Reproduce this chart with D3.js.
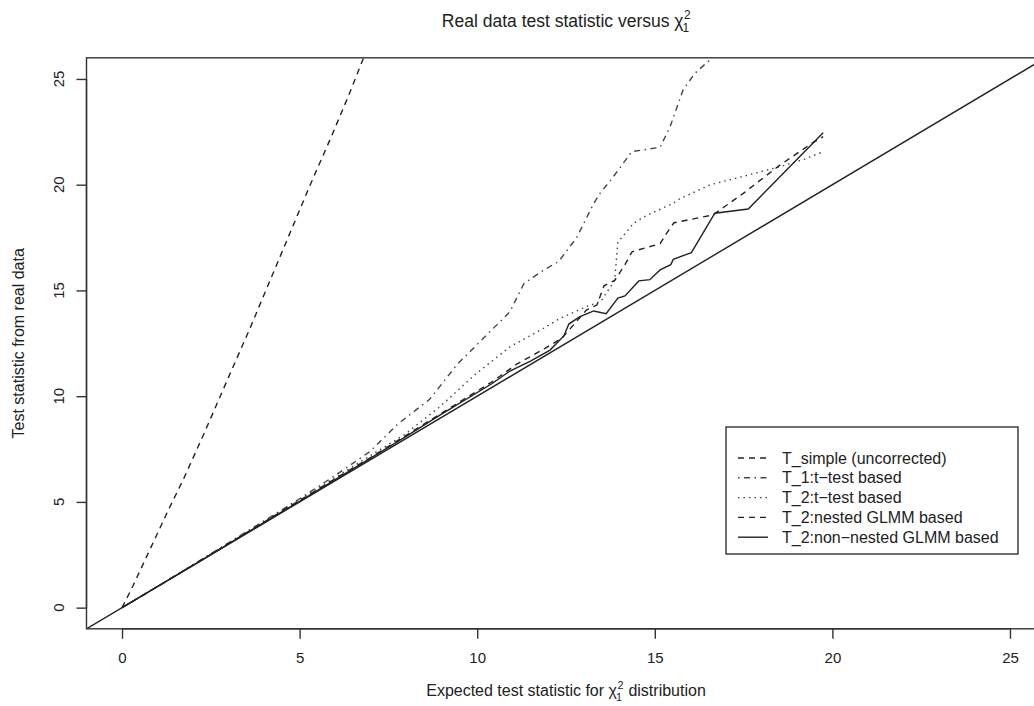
<!DOCTYPE html>
<html>
<head>
<meta charset="utf-8">
<script src="https://cdn.jsdelivr.net/npm/d3@7"></script>
<style>
  body { margin: 0; background: #fff; }
  text { font-family: "Liberation Sans", Arial, sans-serif; fill: #222; white-space: pre; }
</style>
</head>
<body>
<div id="chart"></div>
<script>
var simpleX = [0, 0.3, 0.8, 1.3, 1.72, 2.3, 3.0, 3.6, 4.2, 4.8, 5.3, 5.9, 6.4, 6.8, 7.2];
var simpleY = [0, 1.0, 2.8, 4.6, 6.04, 8.2, 10.9, 13.2, 15.6, 18.0, 20.0, 22.3, 24.3, 26.0, 27.5];

var t1X = [0, 1, 2, 3, 4, 5, 6, 6.98, 7.77, 8.66, 9.44, 10.23, 10.92, 11.31, 11.8, 12.3, 12.8, 13.28, 13.46, 13.8, 14.35, 14.7, 15.15, 15.43, 15.8, 16.13, 16.55, 16.8];
var t1Y = [0, 1.0, 2.03, 3.07, 4.1, 5.15, 6.25, 7.38, 8.69, 9.85, 11.51, 12.83, 13.99, 15.31, 15.89, 16.38, 17.5, 19.11, 19.6, 20.3, 21.56, 21.65, 21.77, 22.74, 24.5, 25.27, 25.9, 26.4];

var t2tX = [0, 1, 2, 3, 4, 5, 6, 7.0, 7.97, 8.95, 9.93, 10.92, 11.9, 12.3, 13.08, 13.48, 13.87, 13.96, 14.07, 14.4, 14.75, 15.52, 15.64, 16.55, 17.5, 18.52, 19.2, 19.74];
var t2tY = [0, 1.0, 2.02, 3.05, 4.08, 5.1, 6.15, 7.2, 8.2, 9.5, 11.01, 12.33, 13.24, 13.65, 14.24, 14.48, 15.47, 17.29, 17.5, 18.17, 18.53, 19.12, 19.28, 19.99, 20.4, 20.85, 21.2, 21.56];

var nestX = [0, 1, 2, 3, 4, 5, 6, 7, 8, 9, 10.42, 11.1, 11.9, 12.39, 13.08, 13.37, 13.57, 13.87, 14.16, 14.36, 15.15, 15.34, 15.54, 16.64, 17.5, 18.5, 19.46, 19.74];
var nestY = [0, 1.0, 2.01, 3.03, 4.05, 5.07, 6.1, 7.1, 8.15, 9.2, 10.68, 11.5, 12.25, 12.75, 14.08, 14.31, 15.22, 15.47, 16.22, 16.83, 17.21, 17.72, 18.2, 18.57, 19.6, 20.9, 22.0, 22.27];

var nonX = [0, 1, 2, 3, 4, 5, 6, 7, 8, 8.95, 10.42, 10.92, 11.5, 12.05, 12.44, 12.58, 12.88, 13.28, 13.63, 13.96, 14.16, 14.55, 14.86, 15.15, 15.45, 15.52, 16.03, 16.69, 17.63, 19.74];
var nonY = [0, 1.0, 2.0, 3.02, 4.03, 5.03, 6.05, 7.07, 8.1, 9.1, 10.6, 11.19, 11.66, 12.18, 12.85, 13.41, 13.75, 14.03, 13.9, 14.64, 14.74, 15.45, 15.51, 15.97, 16.22, 16.47, 16.79, 18.65, 18.85, 22.46];

var identityX = [-1, 26];

var seriesNames = ["T_simple (uncorrected)", "T_1:t\u2212test based", "T_2:t\u2212test based",
                   "T_2:nested GLMM based", "T_2:non\u2212nested GLMM based"];
var dashes = ["6,5", "1.5,4.5,6,4.5", "1.5,4", "6,5", null];
var tickValues = [0, 5, 10, 15, 20, 25];

var svgWidth = 1034, svgHeight = 706;
var margin = {top: 57.8, left: 86.5};
var width = 959, height = 571;

var svg = d3.select("#chart").append("svg")
    .attr("width", svgWidth)
    .attr("height", svgHeight);

var xscale = d3.scaleLinear().domain([-1, 26]).range([margin.left, margin.left + width]);
var yscale = d3.scaleLinear().domain([-1, 26]).range([margin.top + height, margin.top]);

svg.append("clipPath").attr("id", "plotclip")
    .append("rect")
        .attr("x", margin.left).attr("y", margin.top)
        .attr("width", width).attr("height", height);

var plotArea = svg.append("g").attr("clip-path", "url(#plotclip)");

var line = d3.line().x(d => xscale(d[0])).y(d => yscale(d[1]));

// identity reference line
plotArea.append("path")
    .datum(identityX.map(v => [v, v]))
    .attr("d", line)
    .attr("fill", "none")
    .attr("stroke", "#222")
    .attr("stroke-width", 1.4);

var series = [
    d3.zip(simpleX, simpleY),
    d3.zip(t1X, t1Y),
    d3.zip(t2tX, t2tY),
    d3.zip(nestX, nestY),
    d3.zip(nonX, nonY)
];

series.forEach(function (pts, i) {
    plotArea.append("path")
        .datum(pts)
        .attr("d", line)
        .attr("fill", "none")
        .attr("stroke", i == 1 || i == 2 ? "#444" : "#222")
        .attr("stroke-width", 1.4)
        .attr("stroke-dasharray", dashes[i]);
});

// box
svg.append("rect")
    .attr("x", margin.left).attr("y", margin.top)
    .attr("width", width).attr("height", height)
    .attr("fill", "none")
    .attr("stroke", "#333")
    .attr("stroke-width", 1.4);

// axes
var xAxis = d3.axisBottom(xscale).tickValues(tickValues).tickSize(10).tickPadding(14);
var gX = svg.append("g")
    .attr("transform", "translate(0," + (margin.top + height) + ")")
    .call(xAxis);
gX.select(".domain").attr("d", "M" + xscale(0) + ",0H" + xscale(25)).attr("stroke", "#333").attr("stroke-width", 1.4);
gX.selectAll(".tick line").attr("stroke", "#333").attr("stroke-width", 1.4);
gX.selectAll(".tick text").style("font-size", "15px").style("font-family", "Liberation Sans, Arial, sans-serif").attr("fill", "#222");

var yAxis = d3.axisLeft(yscale).tickValues(tickValues).tickSize(10).tickFormat("");
var gY = svg.append("g")
    .attr("transform", "translate(" + margin.left + ",0)")
    .call(yAxis);
gY.select(".domain").attr("d", "M0," + yscale(0) + "V" + yscale(25)).attr("stroke", "#333").attr("stroke-width", 1.4);
gY.selectAll(".tick line").attr("stroke", "#333").attr("stroke-width", 1.4);

svg.selectAll(".ylab")
    .data(tickValues)
    .enter().append("text")
    .attr("class", "ylab")
    .attr("transform", d => "translate(64," + yscale(d) + ") rotate(-90)")
    .attr("text-anchor", "middle")
    .style("font-size", "15px")
    .text(d => d);

// title and axis labels with stacked chi^2_1
function chiLabel(x, y, before, after, size) {
    var g = svg.append("g");
    var t1 = g.append("text").attr("y", y).style("font-size", size + "px").text(before + "\u03c7");
    var w1 = t1.node().getComputedTextLength();
    var sup = g.append("text").attr("y", y - size * 0.45).style("font-size", (size * 0.68) + "px").text("2");
    var sub = g.append("text").attr("y", y + size * 0.3).style("font-size", (size * 0.68) + "px").text("1");
    var ws = Math.max(sup.node().getComputedTextLength(), sub.node().getComputedTextLength());
    var t2 = g.append("text").attr("y", y).style("font-size", size + "px").text(after);
    var w2 = after ? t2.node().getComputedTextLength() : 0;
    var total = w1 + ws + w2 + (after ? 1 : 0);
    var x0 = x - total / 2;
    t1.attr("x", x0);
    sup.attr("x", x0 + w1 + 0.5);
    sub.attr("x", x0 + w1 - 1);
    t2.attr("x", x0 + w1 + ws + 1);
}

var cx = margin.left + width / 2;
chiLabel(cx, 27, "Real data test statistic versus ", "", 17.5);
chiLabel(cx, 696, "Expected test statistic for ", " distribution", 16);

svg.append("text")
    .attr("transform", "translate(24," + (margin.top + height / 2) + ") rotate(-90)")
    .attr("text-anchor", "middle")
    .style("font-size", "16px")
    .text("Test statistic from real data");

// legend
var legX = 726, legY = 427, legW = 292, legH = 127, rowH = 19.8;
var legend = svg.append("g");
legend.append("rect")
    .attr("x", legX).attr("y", legY)
    .attr("width", legW).attr("height", legH)
    .attr("fill", "#fff")
    .attr("stroke", "#333")
    .attr("stroke-width", 1.4);

seriesNames.forEach(function (name, i) {
    var yy = legY + 31 + i * rowH;
    legend.append("line")
        .attr("x1", legX + 12).attr("x2", legX + 42)
        .attr("y1", yy).attr("y2", yy)
        .attr("stroke", i == 1 || i == 2 ? "#444" : "#222")
        .attr("stroke-width", 1.4)
        .attr("stroke-dasharray", dashes[i]);
    legend.append("text")
        .attr("x", legX + 56).attr("y", yy + 5.5)
        .style("font-size", "16px")
        .text(name);
});
</script>
</body>
</html>
